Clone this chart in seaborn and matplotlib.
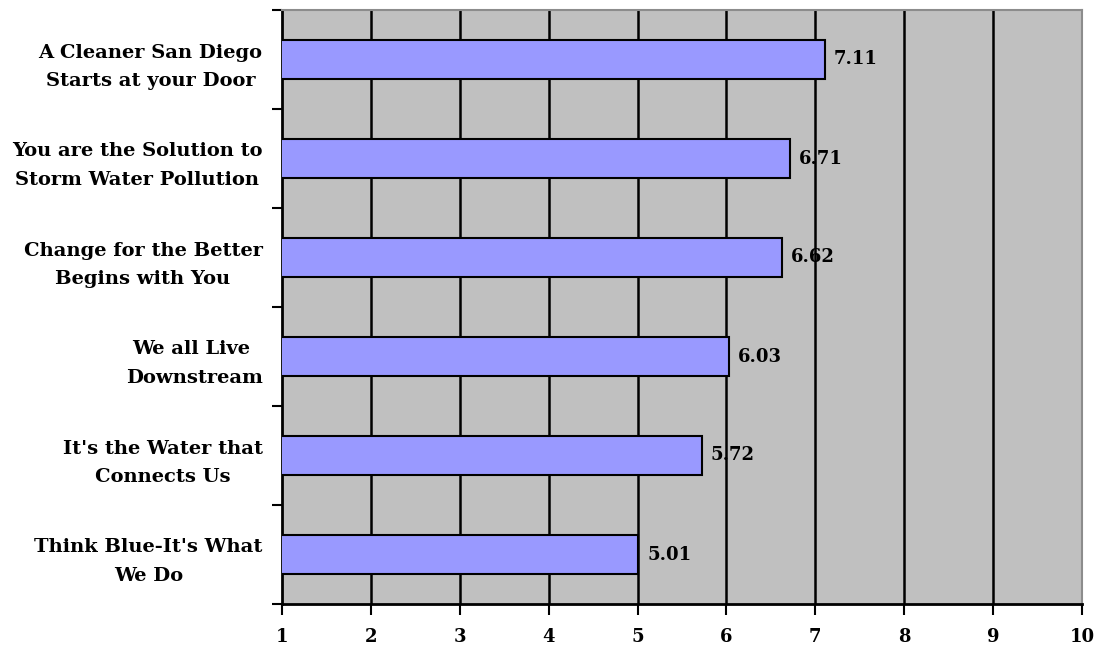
import matplotlib
matplotlib.use("Agg")
import matplotlib.pyplot as plt
import seaborn as sns
import pandas as pd
import numpy as np

categories = [
    "A Cleaner San Diego\nStarts at your Door",
    "You are the Solution to\nStorm Water Pollution",
    "Change for the Better\nBegins with You",
    "We all Live \nDownstream",
    "It's the Water that\nConnects Us",
    "Think Blue-It's What\nWe Do",
]
scores = [7.11, 6.71, 6.62, 6.03, 5.72, 5.01]
xticks = [1, 2, 3, 4, 5, 6, 7, 8, 9, 10]

df = pd.DataFrame({"slogan": categories, "score": scores})

sns.set_theme(style="white")
font = ["DejaVu Serif", "Liberation Serif"]
plt.rcParams["font.family"] = font
plt.rcParams["text.color"] = "black"
plt.rcParams["xtick.color"] = "black"
plt.rcParams["ytick.color"] = "black"
plt.rcParams["xtick.labelcolor"] = "black"
plt.rcParams["ytick.labelcolor"] = "black"

fig = plt.figure(figsize=(11, 6.52), dpi=100)
ax = fig.add_axes([282 / 1100, 1 - 604 / 652, 800 / 1100, 594 / 652])
ax.set_facecolor("#C0C0C0")

sns.barplot(data=df, x="score", y="slogan", orient="h", color="#9999FF",
            saturation=1, edgecolor="black", linewidth=1.5, width=0.4, ax=ax, zorder=3)

ax.set_xlim(1, 10)
ax.set_ylim(5.5, -0.5)
ax.set_xticks(xticks)
ax.set_xticklabels([str(t) for t in xticks], fontsize=13, fontweight="bold",
                   color="black")
for x in xticks[1:-1]:
    ax.axvline(x, color="black", lw=1.8, zorder=1)

ax.set_yticks(range(len(categories)))
ax.set_yticklabels(categories, fontsize=14, fontweight="bold", ha="right",
                   multialignment="center", linespacing=1.75, color="black")
ax.tick_params(axis="y", which="major", length=0, pad=14)
ax.set_yticks(np.arange(-0.5, len(categories), 1), minor=True)
ax.tick_params(axis="y", which="minor", length=7, width=1.5, color="black", left=True)
ax.tick_params(axis="x", which="major", length=8, width=1.5, color="black",
               bottom=True, pad=9)

ax.set_xlabel("")
ax.set_ylabel("")

for side in ["left", "bottom"]:
    ax.spines[side].set_color("black")
    ax.spines[side].set_linewidth(2)
for side in ["top", "right"]:
    ax.spines[side].set_color("#8C8C8C")
    ax.spines[side].set_linewidth(1.5)

for i, v in enumerate(scores):
    ax.text(v + 0.1, i, f"{v:.2f}", va="center", ha="left", fontsize=13,
            fontweight="bold", color="black", zorder=4)

fig.savefig("out.png", dpi=100, facecolor="white")
